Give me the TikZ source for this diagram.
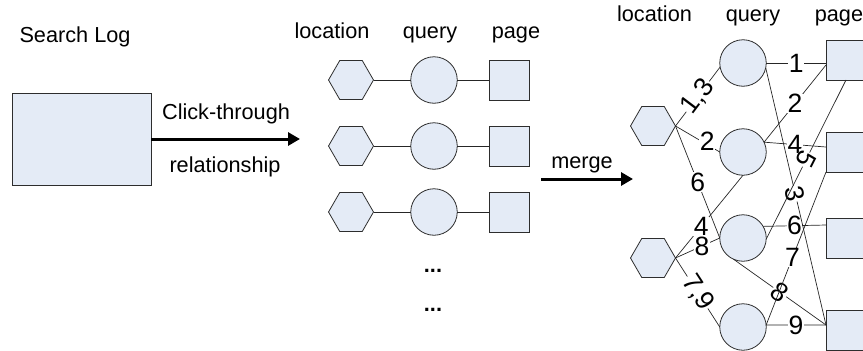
\documentclass[tikz,border=0pt]{standalone}
\usepackage{fontspec}
\setmainfont{Liberation Sans}
\usetikzlibrary{shapes.geometric,arrows.meta}
\definecolor{nodefill}{RGB}{228,235,246}
\definecolor{nodeline}{RGB}{45,45,45}
\begin{document}
\begin{tikzpicture}[x=1pt,y=-1pt,
  hexnode/.style={regular polygon,regular polygon sides=6,minimum size=45pt,
    inner sep=0pt,outer sep=0pt,draw=nodeline,fill=nodefill,line width=0.8pt},
  qnode/.style={circle,minimum size=46.5pt,inner sep=0pt,outer sep=0pt,
    draw=nodeline,fill=nodefill,line width=0.8pt},
  pnode/.style={rectangle,minimum size=40pt,inner sep=0pt,outer sep=0pt,
    draw=nodeline,fill=nodefill,line width=0.8pt},
  link/.style={draw=black!85,line width=0.7pt},
  hdr/.style={font=\fontsize{21.7}{26}\selectfont,anchor=base,inner sep=0pt},
  num/.style={font=\fontsize{26.5}{30}\selectfont,fill=white,inner sep=0.5pt},
  bigarrow/.style={line width=3pt,-{Triangle[length=12pt,width=13pt]}}
]
\clip (0,0) rectangle (863,351);

% ---- search log ----
\node[hdr] (slog) at (75,42) {Search Log};
\node[pnode,minimum width=139pt,minimum height=92pt] (log) at (81.5,139) {};
\coordinate (ctend) at (300,139);
\draw[bigarrow] (log.east) -- (ctend);
\node[hdr] (ct1) at (226,119) {Click-through};
\node[hdr] (ct2) at (225,172) {relationship};

% ---- individual click-through records ----
\node[hdr] (h1) at (332,38) {location};
\node[hdr] (h2) at (430,38) {query};
\node[hdr] (h3) at (516,38) {page};
\foreach \i/\y in {1/80,2/146,3/212}{
  \node[hexnode] (l\i) at (351,\y) {};
  \node[qnode] (q\i) at (434,\y) {};
  \node[pnode] (p\i) at (509,\y) {};
  \draw[link] (l\i.east) -- (q\i.west);
  \draw[link] (q\i.east) -- (p\i.west);
}
\node[hdr,font=\bfseries\fontsize{21.7}{26}\selectfont] (d1) at (433,272) {...};
\node[hdr,font=\bfseries\fontsize{21.7}{26}\selectfont] (d2) at (433,311) {...};

% ---- merge ----
\node[hdr] (mg) at (582,168) {merge};
\coordinate (mg1) at (541,179);
\coordinate (mg2) at (633,179);
\draw[bigarrow] (mg1) -- (mg2);

% ---- merged graph ----
\node[hdr] (H1) at (654.5,21) {location};
\node[hdr] (H2) at (753,21) {query};
\node[hdr] (H3) at (839,21) {page};

\node[hexnode] (L1) at (653,126) {};
\node[hexnode] (L2) at (653,258) {};
\node[qnode] (Q1) at (743,63) {};
\node[qnode] (Q2) at (743,152) {};
\node[qnode] (Q3) at (743,238) {};
\node[qnode] (Q4) at (743,327) {};
\node[pnode] (P1) at (846,60) {};
\node[pnode] (P2) at (846,152) {};
\node[pnode] (P3) at (846,238) {};
\node[pnode] (P4) at (846,330) {};

% location -- query
\draw[link] (L1.east) -- (Q1.190) node[num,pos=0.5,rotate=53] {1,3};
\draw[link] (L1.east) -- (Q2.west) node[num,pos=0.72,yshift=3pt] {2};
\draw[link] (L1.east) -- (Q3.west) node[num,pos=0.5] {6};
\draw[link] (L2.east) -- (Q2.south) node[num,pos=0.38] {4};
\draw[link] (L2.east) -- (Q3.west) node[num,pos=0.6] {8};
\draw[link] (L2.east) -- (Q4.west) node[num,pos=0.5,rotate=-57] {7,9};

% query -- page
\draw[link] (Q1.east) -- (Q1.east -| P1.west) node[num,midway] {1};
\draw[link] (Q2.25) -- (P1.194) node[num,midway] {2};
\draw[link] (Q2.25) -- (P2.166) node[num,midway] {4};
\draw[link] (Q3.30) -- (P3.147) node[num,midway] {6};
\draw[link] (Q1.-12) -- (P4.166) node[num,pos=0.49,rotate=-78] {3};
\draw[link] (P1.south) -- (Q3.-3) node[num,pos=0.5,rotate=-117] {5};
\draw[link] (Q4.5) -- (P4.166) node[num,midway] {9};
\draw[link] (Q3.-114) -- (P4.166) node[num,midway,rotate=-35] {8};
\draw[link] (Q4.5) -- (P2.south west) node[num,pos=0.44] {7};
\end{tikzpicture}
\end{document}
